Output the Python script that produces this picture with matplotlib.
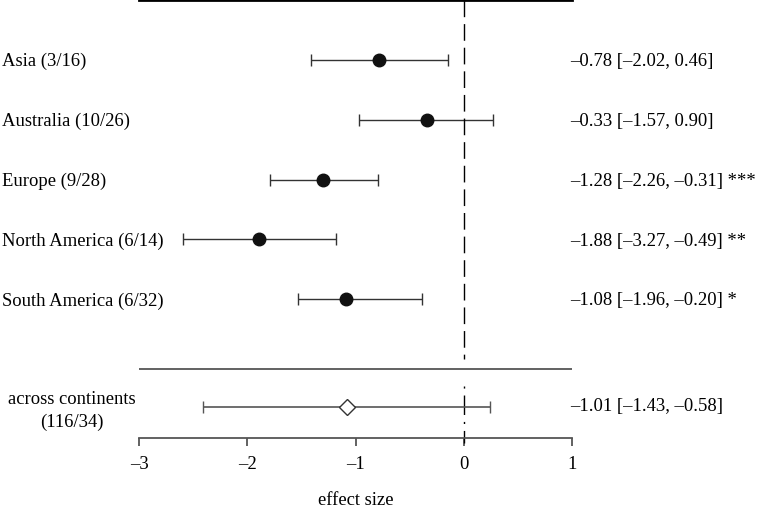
import numpy as np
import matplotlib.pyplot as plt

plt.rcParams['font.family'] = ['Liberation Serif', 'DejaVu Serif']

labels = ['Asia (3/16)', 'Australia (10/26)', 'Europe (9/28)',
          'North America (6/14)', 'South America (6/32)']
est = [-0.78, -0.34, -1.30, -1.89, -1.09]
lo = [-1.41, -0.97, -1.79, -2.59, -1.53]
hi = [-0.15, 0.27, -0.79, -1.18, -0.39]
ci_text = ['\u20130.78 [\u20132.02, 0.46]',
           '\u20130.33 [\u20131.57, 0.90]',
           '\u20131.28 [\u20132.26, \u20130.31] ***',
           '\u20131.88 [\u20133.27, \u20130.49] **',
           '\u20131.08 [\u20131.96, \u20130.20] *']

all_label = 'across continents\n(116/34)'
all_est = -1.08
all_lo = -2.41
all_hi = 0.24
all_text = '\u20131.01 [\u20131.43, \u20130.58]'

xticks = [-3, -2, -1, 0, 1]
xticklabels = ['\u20133', '\u20132', '\u20131', '0', '1']

fs = 13.4
fig = plt.figure(figsize=(7.59, 5.09), dpi=100)
ax = fig.add_axes([139 / 759, 71 / 509, 433.3 / 759, 438 / 509])
ax.set_xlim(-3, 1)
ax.set_ylim(6.32, -1.0)

rows = np.arange(len(labels))
all_row = 5.8
grey = '#555555'

# study rows
ax.errorbar(est, rows, xerr=[np.subtract(est, lo), np.subtract(hi, est)],
            fmt='o', color='#111111', ms=9, ecolor='#333333', elinewidth=1,
            capsize=4, capthick=1)
for r, lab, t in zip(rows, labels, ci_text):
    ax.annotate(lab, xy=(2 / 759, r + 0.03), xycoords=('figure fraction', 'data'),
                fontsize=fs, va='center', ha='left')
    ax.annotate(t, xy=(570 / 759, r + 0.03), xycoords=('figure fraction', 'data'),
                fontsize=fs, va='center', ha='left')

# overall
ax.errorbar([all_est], [all_row], xerr=[[all_est - all_lo], [all_hi - all_est]],
            fmt='D', color=grey, mfc='white', mec='#333333', ms=8, mew=1,
            ecolor=grey, elinewidth=1.2, capsize=4, capthick=1.2, zorder=3)
ax.annotate(all_label, xy=(72 / 759, all_row + 0.07), xycoords=('figure fraction', 'data'),
            fontsize=fs, va='center', ha='center', linespacing=1.45)
ax.annotate(all_text, xy=(570 / 759, all_row), xycoords=('figure fraction', 'data'),
            fontsize=fs, va='center', ha='left')

# reference lines
ax.axhline(-1.0, color='black', lw=2, clip_on=False)
ax.axhline(5.17, color=grey, lw=1.3)
ax.plot([0, 0], [-1.0, 5.0], color='black', lw=1, dashes=(12, 5))
ax.plot([0, 0], [5.45, 6.4], color='black', lw=1, dashes=(1.5, 5, 14, 5),
        clip_on=False)

for s in ['top', 'left', 'right']:
    ax.spines[s].set_visible(False)
ax.spines['bottom'].set_color(grey)
ax.spines['bottom'].set_linewidth(1.3)
ax.set_yticks([])
ax.set_xticks(xticks)
ax.set_xticklabels(xticklabels, fontsize=fs)
ax.tick_params(axis='x', direction='out', length=6, width=1.3, color=grey, pad=7)
ax.set_xlabel('effect size', fontsize=fs, labelpad=13.5)

fig.savefig('out.png', dpi=100)
